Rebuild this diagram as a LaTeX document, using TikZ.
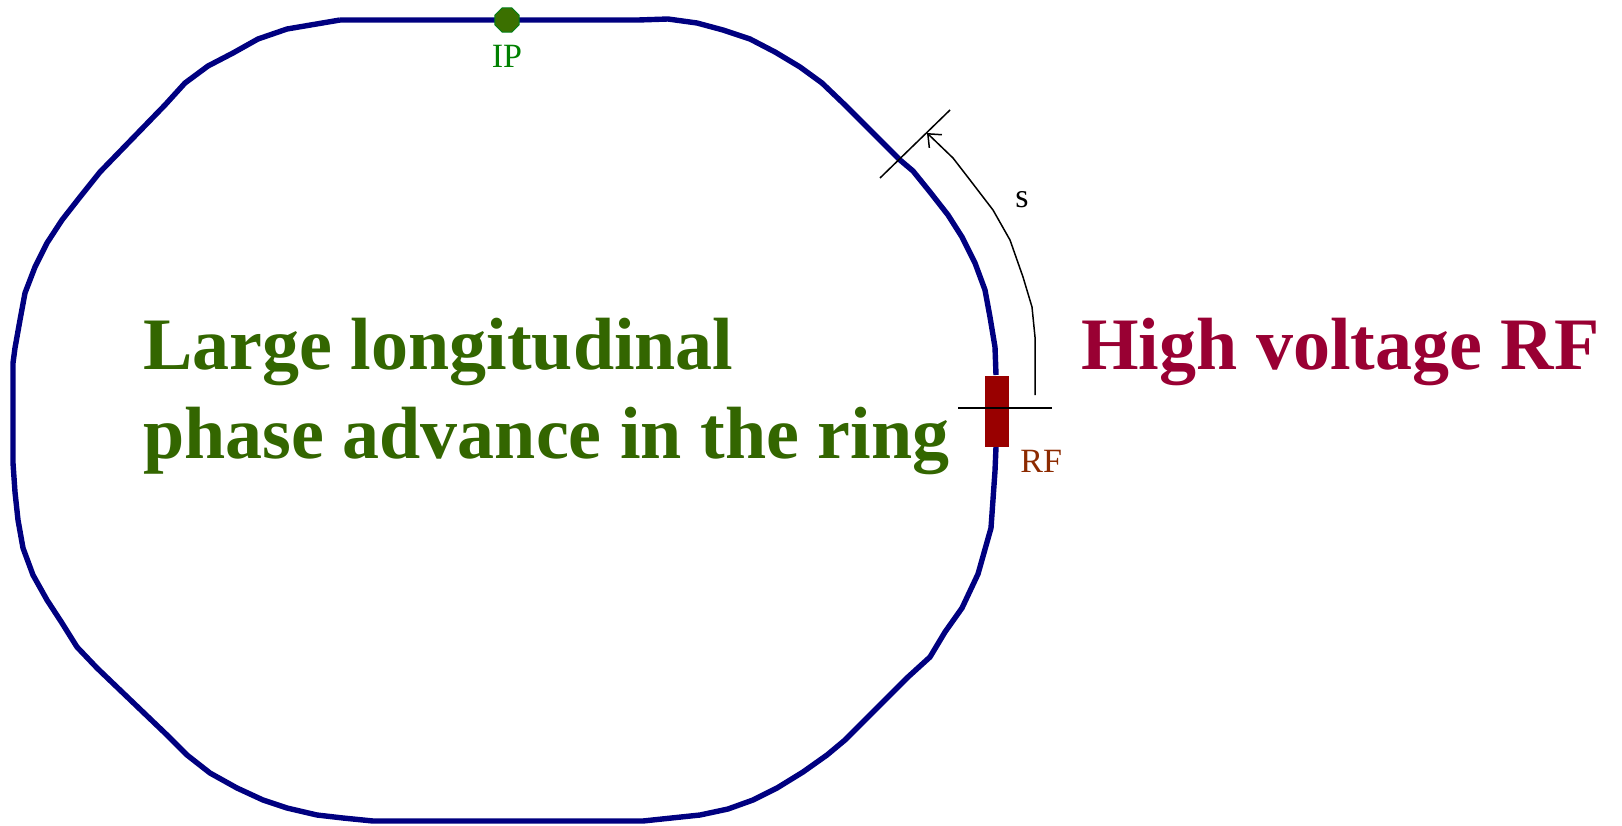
\documentclass[tikz,border=0pt]{standalone}
\usepackage{fontspec}
\setmainfont{Liberation Serif}
\usepackage{tikz}
\usetikzlibrary{positioning,arrows.meta,shapes.geometric}
\definecolor{navy}{HTML}{000080}
\definecolor{leaf}{HTML}{336600}
\definecolor{crimson}{HTML}{990033}
\definecolor{ipgreen}{HTML}{008000}
\definecolor{ipdark}{HTML}{3B7000}
\definecolor{rfred}{HTML}{990000}
\definecolor{rust}{HTML}{8C2A00}
\tikzset{
  ringline/.style={draw=navy, line width=2.7pt, line join=round},
  markline/.style={draw=black, line width=0.75pt},
  headline/.style={font=\fontsize{37}{44}\selectfont\bfseries, inner sep=0pt},
  smalllabel/.style={font=\fontsize{17}{20}\selectfont, inner sep=0pt},
  ipmark/.style={regular polygon, regular polygon sides=8, minimum size=13pt, inner sep=0pt, fill=ipdark, draw=ipgreen!80!teal, line width=0.5pt},
  cavity/.style={rectangle, minimum width=12pt, minimum height=35.5pt, inner sep=0pt, fill=rfred},
  sarrow/.style={-{Straight Barb[length=1.9mm,width=3.2mm]}, markline}
}
\begin{document}
\begin{tikzpicture}[x=0.5pt,y=-0.5pt]
  \fill[white] (0,0) rectangle (1622,825);
  \useasboundingbox (0,0) rectangle (1622,825);
  % ring
  \draw[ringline] (340,20) -- (638,20) -- (668,19) -- (697,23) -- (723,30) -- (750,39) -- (775,52) -- (800,67) -- (822,83) -- (845,105) -- (900,160) -- (913,171) -- (930,192) -- (948,215) -- (962,237) -- (975,263) -- (985,290) -- (990,317) -- (995,347) -- (996,375);
  \draw[ringline] (996,447) -- (995,471) -- (991,528) -- (978,574) -- (962,608) -- (945,632) -- (930,657) -- (908,677) -- (845,740) -- (827,755) -- (803,772) -- (777,788) -- (753,800) -- (728,809) -- (700,815) -- (643,821) -- (373,821) -- (343,818) -- (317,815) -- (287,808) -- (263,800) -- (237,788) -- (210,773) -- (187,755) -- (167,735) -- (97,668) -- (77,647) -- (62,623) -- (47,600) -- (33,575) -- (23,548) -- (18,520) -- (15,492) -- (13,463) -- (13,363) -- (15,348) -- (20,320) -- (25,293) -- (35,267) -- (47,243) -- (62,220) -- (80,197) -- (100,172) -- (165,105) -- (185,83) -- (208,66) -- (233,53) -- (258,39) -- (287,29) -- (340,20);
  % IP and RF
  \node[ipmark] (ip) at (507,20) {};
  \node[smalllabel, text=ipgreen, below=6pt of ip] (iplabel) {IP};
  \node[cavity] (rf) at (997,411) {};
  \node[smalllabel, text=rust, anchor=base west] (rflabel) at (1020,472) {RF};
  % s marker
  \coordinate (tickA) at (880,178);
  \coordinate (tickB) at (950,110);
  \coordinate (rfA) at (958,408);
  \coordinate (rfB) at (1052,408);
  \coordinate (sfoot) at (1035,395);
  \coordinate (stip) at (927,133);
  \draw[markline] (tickA) -- (tickB);
  \draw[markline] (rfA) -- (rfB);
  \draw[sarrow] (sfoot) -- (1035,337) -- (1032,307) -- (1023,277) -- (1010,240) -- (993,210) -- (970,180) -- (953,158) -- (stip);
  \node[smalllabel, anchor=base] (slabel) at (1022,207) {s};
  % texts
  \node[headline, text=leaf, anchor=base west] (phasetop) at (143,369) {Large longitudinal};
  \node[headline, text=leaf, anchor=base west] (phasebot) at (143,458) {phase advance in the ring};
  \node[headline, text=crimson, anchor=base west] (hvrf) at (1081,369) {High voltage RF};
\end{tikzpicture}
\end{document}
